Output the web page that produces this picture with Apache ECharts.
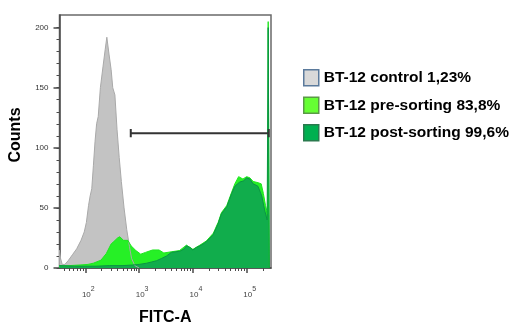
<!DOCTYPE html>
<html>
<head>
<meta charset="utf-8">
<script src="https://cdn.jsdelivr.net/npm/echarts@6/dist/echarts.min.js"></script>
<style>
    html, body { margin: 0; padding: 0; background: #fff; }
    #main { width: 510px; height: 331px; }
</style>
</head>
<body>
<div id="main"></div>
<script>
// FITC 强度按十进制对数位置记录（decade），计数为纵坐标
var seriesNames = ['BT-12 control 1,23%', 'BT-12 pre-sorting 83,8%', 'BT-12 post-sorting 99,6%'];

var controlX = [1.516, 1.54, 1.57, 1.62, 1.68, 1.76, 1.84, 1.92, 1.98, 2.02, 2.06, 2.09, 2.12, 2.15, 2.18, 2.21, 2.24, 2.28, 2.33, 2.37, 2.40, 2.44, 2.48, 2.51, 2.55, 2.59, 2.63, 2.67, 2.72, 2.77, 2.82, 2.86, 2.92, 3.0];
var controlY = [15, 8, 3, 3, 6, 11, 16, 23, 30, 38, 52, 60, 66, 85, 105, 120, 126, 150, 168, 182, 192, 178, 165, 150, 144, 115, 92, 72, 50, 32, 18, 8, 2, 0];

var preX = [1.516, 1.7, 1.9, 2.05, 2.15, 2.29, 2.39, 2.48, 2.53, 2.6, 2.64, 2.71, 2.79, 2.85, 2.94, 3.03, 3.12, 3.25, 3.37, 3.46, 3.6, 3.75, 3.88, 3.91, 4.0, 4.13, 4.25, 4.38, 4.47, 4.53, 4.63, 4.72, 4.78, 4.85, 4.88, 4.93, 5.0, 5.06, 5.12, 5.21, 5.27, 5.31, 5.35, 5.39, 5.40, 5.415, 5.42];
var preY = [2, 2, 2.5, 3, 4, 6.5, 12, 20, 22, 25, 26, 23, 23, 18.5, 14.5, 11.5, 13, 15, 15, 12.5, 13.5, 14.5, 19, 20.5, 15.5, 19, 22.5, 29, 38, 46, 52, 63, 70, 76, 77, 74, 76, 75, 72, 71, 70, 62, 52, 45, 205, 205, 0];

var postX = [1.516, 1.8, 2.0, 2.2, 2.45, 2.7, 2.88, 3.0, 3.14, 3.23, 3.32, 3.42, 3.51, 3.6, 3.68, 3.76, 3.84, 3.88, 3.91, 3.95, 4.0, 4.06, 4.13, 4.19, 4.25, 4.32, 4.38, 4.43, 4.47, 4.53, 4.58, 4.63, 4.68, 4.72, 4.78, 4.83, 4.87, 4.94, 5.0, 5.06, 5.12, 5.17, 5.21, 5.28, 5.34, 5.38, 5.40, 5.415, 5.42];
var postY = [2, 1.5, 1.5, 1.5, 2, 2, 2.5, 3, 4, 5, 6, 8, 10, 13, 13.5, 14, 16, 18.5, 20, 17, 15, 17, 18.5, 20, 22, 25, 28, 33, 37, 45, 48, 51, 57, 62, 68, 70, 71.5, 72.5, 75, 74, 70, 69, 68, 60, 47, 40, 200, 200, 0];

// 门控线（横线两端带竖线）
var gateX = [2.845, 5.41];
var gateY = 112.2;
var gateCap = 3.5;

var xTickDecades = [2, 3, 4, 5];
var yTickValues = [0, 50, 100, 150, 200];
var xMin = 1.52, xMax = 5.452;
var yMin = 0, yMax = 210.5;

function zip(xs, ys) {
    var out = [];
    for (var i = 0; i < xs.length; i++) out.push([xs[i], ys[i]]);
    return out;
}

// 对数次刻度 2..9 × 10^n
var xMinorTicks = [];
for (var n = 1; n <= 5; n++) {
    for (var k = 2; k <= 9; k++) {
        var v = Math.log10(k) + n;
        if (v > xMin && v < xMax) xMinorTicks.push(v);
    }
}
var yMinorTicks = [];
for (var t = 0; t <= 200; t += 10) yMinorTicks.push(t);

var gateData = [
    [gateX[0], gateY - gateCap], [gateX[0], gateY + gateCap], [gateX[0], gateY],
    [gateX[1], gateY], [gateX[1], gateY - gateCap], [gateX[1], gateY + gateCap]
];

var axisColor = '#4a4a4a';
var font = "'Liberation Sans', Arial, sans-serif";

var myChart = echarts.init(document.getElementById('main'));

var option = {
    animation: false,
    grid: {
        left: 59.5,
        top: 15,
        right: 239,
        bottom: 56,
        show: true,
        borderColor: '#6a6a6a',
        borderWidth: 1.5,
        backgroundColor: 'transparent'
    },
    legend: {
        orient: 'vertical',
        left: 298,
        top: 64,
        itemWidth: 15,
        itemHeight: 16,
        itemGap: 10,
        icon: 'rect',
        textStyle: {
            fontFamily: font,
            fontSize: 15.5,
            fontWeight: 'bold',
            color: '#000'
        },
        data: [
            { name: seriesNames[0], itemStyle: { color: '#d9d9d9', borderColor: '#5b7a9c', borderWidth: 1.5 } },
            { name: seriesNames[1], itemStyle: { color: '#66ff33', borderColor: '#5a9a46', borderWidth: 1.5 } },
            { name: seriesNames[2], itemStyle: { color: '#00b050', borderColor: '#2a7a4e', borderWidth: 1.5 } }
        ]
    },
    xAxis: [
        {
            type: 'value',
            min: xMin,
            max: xMax,
            name: 'FITC-A',
            nameLocation: 'middle',
            nameGap: 42,
            nameTextStyle: {
                fontFamily: font,
                fontSize: 16,
                fontWeight: 'bold',
                color: '#000'
            },
            axisLine: { show: true, lineStyle: { color: axisColor, width: 1.5 } },
            axisTick: { show: true, length: 5, customValues: xTickDecades, lineStyle: { color: axisColor, width: 1.5 } },
            axisLabel: {
                customValues: xTickDecades,
                margin: 18,
                formatter: function (value) {
                    return '{b|10}{s|' + value + '}';
                },
                rich: {
                    b: { fontFamily: font, fontSize: 8, color: '#444', lineHeight: 13, verticalAlign: 'bottom', padding: [0, 0, 0, 6] },
                    s: { fontFamily: font, fontSize: 7, color: '#444', lineHeight: 13, verticalAlign: 'top' }
                }
            },
            splitLine: { show: false }
        },
        {
            type: 'value',
            min: xMin,
            max: xMax,
            position: 'bottom',
            axisLine: { show: false },
            axisTick: { show: true, length: 3, customValues: xMinorTicks, lineStyle: { color: axisColor, width: 1 } },
            axisLabel: { show: false },
            splitLine: { show: false }
        }
    ],
    yAxis: [
        {
            type: 'value',
            min: yMin,
            max: yMax,
            name: 'Counts',
            nameLocation: 'middle',
            nameGap: 36,
            nameTextStyle: {
                fontFamily: font,
                fontSize: 16,
                fontWeight: 'bold',
                color: '#000',
                padding: [0, 0, 0, 13]
            },
            axisLine: { show: true, lineStyle: { color: axisColor, width: 1.5 } },
            axisTick: { show: true, length: 6, customValues: yTickValues, lineStyle: { color: axisColor, width: 1.5 } },
            axisLabel: {
                customValues: yTickValues,
                margin: 11,
                fontFamily: font,
                fontSize: 8,
                color: '#333'
            },
            splitLine: { show: false }
        },
        {
            type: 'value',
            min: yMin,
            max: yMax,
            position: 'left',
            axisLine: { show: false },
            axisTick: { show: true, length: 3, customValues: yMinorTicks, lineStyle: { color: axisColor, width: 1 } },
            axisLabel: { show: false },
            splitLine: { show: false }
        }
    ],
    series: [
        {
            name: seriesNames[0],
            type: 'line',
            data: zip(controlX, controlY),
            symbol: 'none',
            itemStyle: { color: '#c3c3c3' },
            lineStyle: { color: '#a9a9a9', width: 1 },
            areaStyle: { color: '#c3c3c3', opacity: 1 }
        },
        {
            name: seriesNames[1],
            type: 'line',
            data: zip(preX, preY),
            symbol: 'none',
            itemStyle: { color: '#26f026' },
            lineStyle: { color: '#1ee61e', width: 1 },
            areaStyle: { color: '#26f026', opacity: 1 }
        },
        {
            name: seriesNames[2],
            type: 'line',
            data: zip(postX, postY),
            symbol: 'none',
            itemStyle: { color: '#11ad4c' },
            lineStyle: { color: '#0b9444', width: 1 },
            areaStyle: { color: '#11ad4c', opacity: 1 }
        },
        {
            name: 'gate',
            type: 'line',
            data: gateData,
            symbol: 'none',
            lineStyle: { color: '#333', width: 2 },
            z: 5
        }
    ]
};
myChart.setOption(option);
</script>
</body>
</html>
